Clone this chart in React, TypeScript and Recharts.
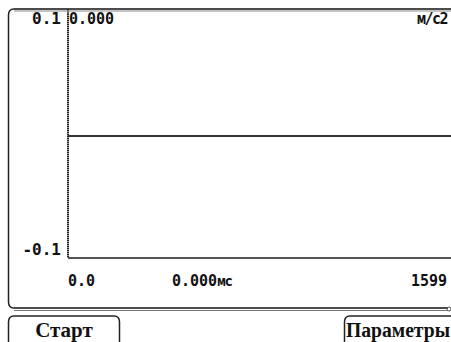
import { LineChart, Line, XAxis, YAxis, ReferenceLine } from 'recharts'

// sample index range shown on the x axis and the (flat) signal
const samples = [0, 1599]
const accel = [0, 0]
const yTicks = [-0.1, 0.1]
const yTickLabels = ['-0.1', '0.1']
const xTickLabels = ['0.0', '1599']

const currentValue = '0.000'
const unitY = 'м/с2'
const cursorTime = '0.000'
const unitX = 'мс'
const btnStart = 'Старт'
const btnParams = 'Параметры'

const data = samples.map((t, i) => ({ t, v: accel[i] }))

const mono = '"DejaVu Sans Mono", monospace'
const serif = '"Liberation Serif", "DejaVu Serif", serif'
const txt = { fontFamily: mono, fontWeight: 700, fontSize: 15, fill: '#111' }

function YTick({ x, y, payload, index }: any) {
  const top = payload.value > 0
  return (
    <text
      x={x + 1}
      y={top ? y + 10 : y - 3}
      textAnchor="end"
      style={{ ...txt, fontSize: 16 }}
    >
      {yTickLabels[index]}
    </text>
  )
}

function XTick({ x, y, index }: any) {
  const first = index === 0
  return (
    <text
      x={first ? x : x - 4}
      y={y + 20}
      textAnchor={first ? 'start' : 'end'}
      style={txt}
    >
      {xTickLabels[index]}
    </text>
  )
}

export default function App() {
  return (
    <div style={{ position: 'fixed', left: 0, top: 0, width: 451, height: 342, background: '#fff' }}>
      <LineChart
        width={451}
        height={342}
        data={data}
        margin={{ top: 14, right: 0, bottom: 0, left: 0 }}
      >
        <XAxis
          dataKey="t"
          type="number"
          domain={[0, 1599]}
          ticks={samples}
          height={84}
          tickLine={false}
          axisLine={{ stroke: '#555', strokeWidth: 2 }}
          tick={<XTick />}
          interval={0}
        />
        <YAxis
          type="number"
          domain={[-0.1, 0.1]}
          ticks={yTicks}
          width={68}
          tickLine={false}
          axisLine={{ stroke: '#222', strokeWidth: 2, strokeDasharray: '1 1' }}
          tick={<YTick />}
          interval={0}
        />
        <ReferenceLine x={0} stroke="#333" strokeWidth={1} />
        <Line
          dataKey="v"
          stroke="#333"
          strokeWidth={2}
          dot={false}
          isAnimationActive={false}
        />
      </LineChart>
      <svg
        width={451}
        height={342}
        style={{ position: 'absolute', left: 0, top: 0, pointerEvents: 'none' }}
      >
        {/* axis stub up to the frame */}
        <path d="M 68 9 L 68 14" stroke="#333" strokeWidth={1.5} />
        {/* outer frame */}
        <path d="M 14 9 L 451 9" stroke="#111" strokeWidth={1.5} fill="none" />
        <path d="M 14 11 L 451 11" stroke="#888" strokeWidth={1} fill="none" />
        <path d="M 14 9 Q 8.5 9 8.5 15 L 8.5 302 Q 8.5 308 14 308" stroke="#222" strokeWidth={1.5} fill="none" />
        <path d="M 14 308 L 448 308" stroke="#111" strokeWidth={1.5} fill="none" />
        <path d="M 14 310.5 L 448 310.5" stroke="#777" strokeWidth={1} fill="none" />
        <circle cx={449} cy={309} r={2} stroke="#555" fill="none" />
        {/* header texts */}
        <text x={69} y={24} style={txt}>
          {currentValue}
        </text>
        <text x={447} y={24} textAnchor="end" style={{ ...txt, fontSize: 15, letterSpacing: -1.5 }}>
          {unitY}
        </text>
        <text x={172} y={286} style={txt}>
          {cursorTime}
          <tspan style={{ fontSize: 14, letterSpacing: -1 }}>{unitX}</tspan>
        </text>
        {/* buttons */}
        <path d="M 14 316 L 114 316 Q 119.5 316 119.5 322 L 119.5 342" stroke="#222" strokeWidth={1.5} fill="none" />
        <path d="M 14 316 Q 8.5 316 8.5 322 L 8.5 342" stroke="#222" strokeWidth={1.5} fill="none" />
        <text x={64} y={337} textAnchor="middle" style={{ fontFamily: serif, fontWeight: 700, fontSize: 21, fill: '#111' }}>
          {btnStart}
        </text>
        <path d="M 451 316 L 350 316 Q 344.5 316 344.5 322 L 344.5 342" stroke="#222" strokeWidth={1.5} fill="none" />
        <text x={346} y={337} textLength={104} lengthAdjust="spacingAndGlyphs" style={{ fontFamily: serif, fontWeight: 700, fontSize: 20, fill: '#111' }}>
          {btnParams}
        </text>
      </svg>
    </div>
  )
}
